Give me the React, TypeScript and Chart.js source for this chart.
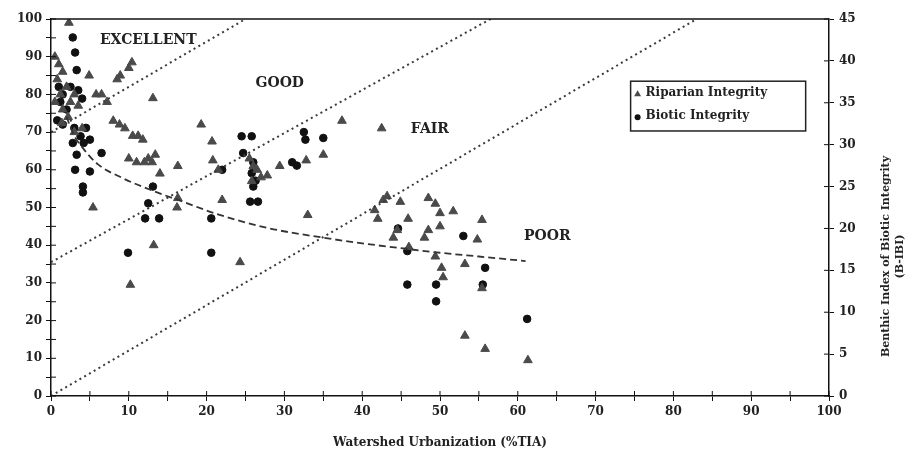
import React, { useEffect, useRef } from "react";
import { Chart, registerables } from "chart.js";

Chart.register(...registerables);

// Riparian integrity (left axis, 0-100)
const riparianX = [
  2.3, 0.5, 1, 1.5, 0.8, 2, 1.2, 0.5, 3, 2.5, 1.5, 3.5, 2.2, 1.4, 4, 3,
  4.9, 5.8, 6.5, 7.2, 8.5, 8.9, 10, 10.4, 13.1,
  8, 8.8, 9.5, 10.5, 11.2, 11.8,
  10, 11, 12, 12.5, 13, 13.4, 14, 16.3, 16.2, 16.3, 5.4, 13.2, 10.2,
  19.3, 20.7, 20.8, 21.5, 22, 24.3, 25.5, 26, 26.5, 27, 27.8, 25.8, 29.4, 32.8, 35, 33, 37.4, 42.5,
  41.6, 42, 42.7, 43.2, 44.9, 45.9, 44.5, 44, 46, 48.5, 49.4, 50, 50, 48.5, 48, 49.4, 50.2, 50.4,
  51.7, 53.2, 54.8, 55.4, 55.4, 53.2, 55.8, 61.3,
];
const riparianY = [
  99, 90, 88, 86, 84, 82, 80, 78, 80, 78, 76, 77, 74, 72.4, 71, 70,
  85, 80, 80, 78, 84, 85, 87, 88.5, 79,
  73, 72, 71, 69, 69, 68,
  63, 62, 62, 63, 62, 64, 59, 61, 50, 52.5, 50, 40, 29.5,
  72, 67.5, 62.5, 60, 52, 35.5, 63, 61, 60, 58, 58.5, 57, 61, 62.5, 64, 48, 73, 71,
  49.3, 47, 52, 53, 51.5, 47, 44, 42, 39.5, 52.5, 51, 48.5, 45, 44, 42, 37, 34, 31.5,
  49, 35, 41.5, 46.7, 28.6, 16, 12.5, 9.5,
];

// Biotic integrity (right axis, B-IBI 0-45)
const bioticX = [
  2.8, 3.1, 3.3, 1, 1.5, 2.5, 3.5, 4, 1.2, 2, 0.8, 1.5, 3, 4.5, 3.8, 2.8, 4.2, 5,
  3.3, 6.5, 3.1, 5, 4.1, 4.1, 13.1, 12.5, 12.1, 13.9, 20.6, 9.9, 20.6,
  24.5, 25.8, 24.7, 26, 25.8, 26.3, 26, 25.6, 26.6, 31.6, 31, 32.5, 32.7, 35, 22,
  44.6, 45.8, 53, 55.8, 55.5, 45.8, 49.5, 49.5, 61.2,
];
const bioticIBI = [
  42.8, 41, 38.9, 36.9, 36, 36.9, 36.5, 35.5, 35.1, 34.2, 32.9, 32.4, 32, 32, 31, 30.2, 30.2, 30.6,
  28.8, 29, 27, 26.8, 25, 24.3, 25, 23, 21.2, 21.2, 21.2, 17.1, 17.1,
  31, 31, 29, 27.9, 26.6, 25.7, 25, 23.2, 23.2, 27.5, 27.9, 31.5, 30.6, 30.8, 27,
  20, 17.3, 19.1, 15.3, 13.3, 13.3, 13.3, 11.3, 9.2,
];

// Fitted trend curve (left axis units)
const fitX = [2, 3, 4, 6, 9, 13, 17, 21, 28, 35, 40, 45, 50, 55, 61];
const fitY = [74, 69, 66, 61.5, 58, 54.5, 51.5, 48.5, 44.5, 42, 40.5, 39.2, 38, 37, 35.8];

// Class boundary lines
const excellentLineX = [0, 25];
const excellentLineY = [70, 100];
const goodLineX = [0, 56.5];
const goodLineY = [35.5, 100];
const fairLineX = [0, 83];
const fairLineY = [0, 100];

// Region labels
const regionNames = ["EXCELLENT", "GOOD", "FAIR", "POOR"];
const regionX = [12.5, 29.4, 48.7, 63.8];
const regionY = [94.4, 83, 70.6, 42.4];

const legendNames = ["Riparian Integrity", "Biotic Integrity"];
const xTitle = "Watershed Urbanization (%TIA)";
const rightTitle = ["Benthic Index of Biotic Integrity", "(B-IBI)"];

const FONT = "'DejaVu Serif', 'Liberation Serif', serif";

const pts = (xs: number[], ys: number[]) => xs.map((x, i) => ({ x, y: ys[i] }));

const overlayPlugin = {
  id: "overlay",
  afterDatasetsDraw(chart: any) {
    const { ctx, chartArea } = chart;
    const xs = chart.scales.x;
    const ys = chart.scales.y;
    const y1 = chart.scales.y1;
    ctx.save();
    ctx.strokeStyle = "#111";
    ctx.lineWidth = 1.5;
    // top frame
    ctx.beginPath();
    ctx.moveTo(chartArea.left, chartArea.top);
    ctx.lineTo(chartArea.right, chartArea.top);
    ctx.stroke();
    // inner tick marks
    ctx.lineWidth = 1;
    xs.ticks.forEach((t: any) => {
      const p = xs.getPixelForValue(t.value);
      ctx.beginPath();
      ctx.moveTo(p, chartArea.bottom);
      ctx.lineTo(p, chartArea.bottom - 5);
      ctx.stroke();
    });
    ys.ticks.forEach((t: any) => {
      const p = ys.getPixelForValue(t.value);
      ctx.beginPath();
      ctx.moveTo(chartArea.left, p);
      ctx.lineTo(chartArea.left + 5, p);
      ctx.stroke();
    });
    y1.ticks.forEach((t: any) => {
      const p = y1.getPixelForValue(t.value);
      ctx.beginPath();
      ctx.moveTo(chartArea.right, p);
      ctx.lineTo(chartArea.right - 5, p);
      ctx.stroke();
    });
    // region labels
    ctx.fillStyle = "#222";
    ctx.font = `bold 14px ${FONT}`;
    ctx.textAlign = "center";
    ctx.textBaseline = "middle";
    regionNames.forEach((n, i) => {
      ctx.fillText(n, xs.getPixelForValue(regionX[i]), ys.getPixelForValue(regionY[i]));
    });
    // legend box
    const lx0 = xs.getPixelForValue(74.5);
    const lx1 = xs.getPixelForValue(97);
    const ly0 = ys.getPixelForValue(83.5);
    const ly1 = ys.getPixelForValue(70.3);
    ctx.fillStyle = "#fff";
    ctx.fillRect(lx0, ly0, lx1 - lx0, ly1 - ly0);
    ctx.strokeStyle = "#222";
    ctx.lineWidth = 1.5;
    ctx.strokeRect(lx0, ly0, lx1 - lx0, ly1 - ly0);
    ctx.font = `bold 12px ${FONT}`;
    ctx.textAlign = "left";
    const rowA = ly0 + 12;
    const rowB = ly0 + 35;
    // triangle marker
    ctx.fillStyle = "#4a4a4a";
    ctx.beginPath();
    ctx.moveTo(lx0 + 7, rowA - 3);
    ctx.lineTo(lx0 + 10.5, rowA + 3);
    ctx.lineTo(lx0 + 3.5, rowA + 3);
    ctx.closePath();
    ctx.fill();
    ctx.fillStyle = "#111";
    ctx.beginPath();
    ctx.arc(lx0 + 7, rowB + 1, 3, 0, Math.PI * 2);
    ctx.fill();
    ctx.fillStyle = "#222";
    ctx.fillText(legendNames[0], lx0 + 15, rowA);
    ctx.fillText(legendNames[1], lx0 + 15, rowB);
    // right axis title, reading bottom to top
    ctx.save();
    ctx.translate(886, chartArea.top + (chartArea.bottom - chartArea.top) * 0.63);
    ctx.rotate(-Math.PI / 2);
    ctx.font = `bold 11px ${FONT}`;
    ctx.textAlign = "center";
    ctx.fillText(rightTitle[0], 0, 0);
    ctx.fillText(rightTitle[1], 0, 14);
    ctx.restore();
    ctx.restore();
  },
};

export default function App() {
  const ref = useRef<HTMLCanvasElement | null>(null);
  useEffect(() => {
    if (!ref.current) return;
    const tickFont = { family: FONT, size: 12, weight: "bold" as const };
    const dotted = {
      type: "line",
      borderColor: "#3a3a3a",
      borderWidth: 2,
      borderDash: [2, 3.5],
      pointRadius: 0,
      fill: false,
    };
    const chart = new Chart(ref.current, {
      type: "scatter",
      data: {
        datasets: [
          { ...dotted, label: "excellent", data: pts(excellentLineX, excellentLineY) },
          { ...dotted, label: "good", data: pts(goodLineX, goodLineY) },
          { ...dotted, label: "fair", data: pts(fairLineX, fairLineY) },
          {
            label: "fit",
            type: "line",
            data: pts(fitX, fitY),
            borderColor: "#333",
            borderWidth: 1.8,
            borderDash: [7, 4],
            pointRadius: 0,
            cubicInterpolationMode: "monotone",
            fill: false,
          },
          {
            label: legendNames[0],
            data: pts(riparianX, riparianY),
            pointStyle: "triangle",
            pointRadius: 5,
            backgroundColor: "#4a4a4a",
            borderColor: "#4a4a4a",
            borderWidth: 1,
          },
          {
            label: legendNames[1],
            data: pts(bioticX, bioticIBI),
            yAxisID: "y1",
            pointStyle: "circle",
            pointRadius: 3.8,
            backgroundColor: "#111",
            borderColor: "#111",
            borderWidth: 1,
          },
        ],
      },
      options: {
        responsive: false,
        animation: false,
        layout: { padding: { top: 19, left: 0, right: 0, bottom: 0 } },
        plugins: { legend: { display: false }, tooltip: { enabled: false } },
        scales: {
          x: {
            type: "linear",
            min: 0,
            max: 100,
            afterFit: (s: any) => {
              s.height = 58;
            },
            ticks: {
              stepSize: 5,
              autoSkip: false,
              maxRotation: 0,
              color: "#222",
              font: tickFont,
              padding: 4,
              callback: (v: any) => (Number(v) % 10 === 0 ? String(v) : ""),
            },
            grid: { drawOnChartArea: false, tickLength: 5, color: "#111" },
            border: { color: "#111", width: 1.5 },
            title: {
              display: true,
              text: xTitle,
              color: "#222",
              font: { family: FONT, size: 12, weight: "bold" },
              padding: { top: 4, bottom: 4 },
            },
          },
          y: {
            type: "linear",
            position: "left",
            min: 0,
            max: 100,
            afterFit: (s: any) => {
              s.width = 51;
            },
            ticks: {
              stepSize: 5,
              autoSkip: false,
              color: "#222",
              font: tickFont,
              padding: 4,
              callback: (v: any) => (Number(v) % 10 === 0 ? String(v) : ""),
            },
            grid: { drawOnChartArea: false, tickLength: 5, color: "#111" },
            border: { color: "#111", width: 1.5 },
          },
          y1: {
            type: "linear",
            position: "right",
            min: 0,
            max: 45,
            afterFit: (s: any) => {
              s.width = 84;
            },
            ticks: {
              stepSize: 5,
              autoSkip: false,
              color: "#222",
              font: tickFont,
              padding: 5,
            },
            grid: { drawOnChartArea: false, tickLength: 5, color: "#111" },
            border: { color: "#111", width: 1.5 },
          },
        },
      },
      plugins: [overlayPlugin],
    } as any);
    return () => chart.destroy();
  }, []);
  return (
    <div style={{ position: "fixed", left: 0, top: 0, width: 913, height: 454, background: "#fff" }}>
      <canvas ref={ref} width={913} height={454} style={{ display: "block" }} />
    </div>
  );
}
